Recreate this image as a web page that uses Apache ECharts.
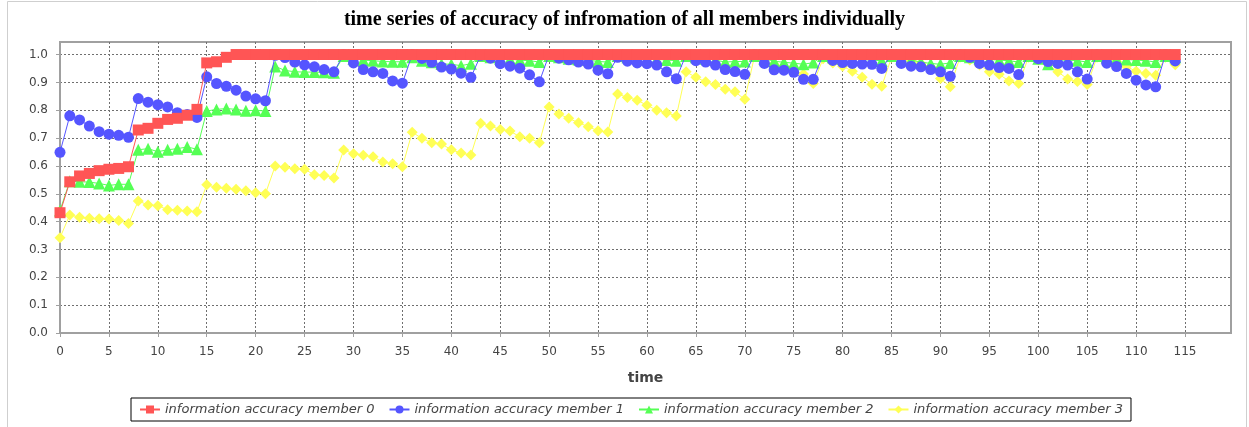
<!DOCTYPE html>
<html>
<head>
<meta charset="utf-8">
<script src="https://cdn.jsdelivr.net/npm/echarts@6/dist/echarts.min.js"></script>
<style>
  html, body { margin: 0; padding: 0; background: #ffffff; }
  #chart { width: 1249px; height: 427px; }
</style>
</head>
<body>
<div id="chart"></div>
<script>
// Accuracy of information held by each member, one value per time step (t = 0 .. 114)
const member0 = [
  0.432,
  0.543, 0.564, 0.573, 0.583, 0.588, 0.591, 0.597,
  0.729, 0.735, 0.753, 0.767, 0.771, 0.782, 0.803,
  0.970, 0.974, 0.990, 1.0, 1.0, 1.0, 1.0,
  1.0, 1.0, 1.0, 1.0, 1.0, 1.0, 1.0,
  1.0, 1.0, 1.0, 1.0, 1.0, 1.0, 1.0,
  1.0, 1.0, 1.0, 1.0, 1.0, 1.0, 1.0,
  1.0, 1.0, 1.0, 1.0, 1.0, 1.0, 1.0,
  1.0, 1.0, 1.0, 1.0, 1.0, 1.0, 1.0,
  1.0, 1.0, 1.0, 1.0, 1.0, 1.0, 1.0,
  1.0, 1.0, 1.0, 1.0, 1.0, 1.0, 1.0,
  1.0, 1.0, 1.0, 1.0, 1.0, 1.0, 1.0,
  1.0, 1.0, 1.0, 1.0, 1.0, 1.0, 1.0,
  1.0, 1.0, 1.0, 1.0, 1.0, 1.0, 1.0,
  1.0, 1.0, 1.0, 1.0, 1.0, 1.0, 1.0,
  1.0, 1.0, 1.0, 1.0, 1.0, 1.0, 1.0,
  1.0, 1.0, 1.0, 1.0, 1.0, 1.0, 1.0,
  1.0, 1.0
];

const member1 = [
  0.649,
  0.780, 0.765, 0.743, 0.723, 0.714, 0.710, 0.703,
  0.842, 0.829, 0.820, 0.812, 0.791, 0.785, 0.774,
  0.920, 0.896, 0.886, 0.872, 0.851, 0.841, 0.834,
  0.997, 0.989, 0.973, 0.963, 0.956, 0.946, 0.938,
  1.0, 0.970, 0.946, 0.938, 0.932, 0.905, 0.897,
  1.0, 0.986, 0.972, 0.955, 0.948, 0.933, 0.918,
  0.997, 0.987, 0.967, 0.958, 0.951, 0.927, 0.902,
  1.0, 0.987, 0.981, 0.973, 0.966, 0.944, 0.931,
  0.990, 0.976, 0.970, 0.967, 0.962, 0.938, 0.913,
  1.0, 0.978, 0.973, 0.962, 0.946, 0.939, 0.929,
  1.0, 0.968, 0.945, 0.944, 0.936, 0.911, 0.911,
  1.0, 0.979, 0.971, 0.968, 0.966, 0.965, 0.950,
  1.0, 0.968, 0.958, 0.956, 0.946, 0.938, 0.922,
  1.0, 0.990, 0.968, 0.962, 0.953, 0.950, 0.928,
  1.0, 0.985, 0.975, 0.968, 0.962, 0.938, 0.912,
  1.0, 0.969, 0.957, 0.932, 0.908, 0.891, 0.884,
  1.0, 0.977
];

const member2 = [
  0.440,
  0.545, 0.543, 0.542, 0.537, 0.530, 0.534, 0.534,
  0.658, 0.662, 0.651, 0.658, 0.662, 0.668, 0.660,
  0.797, 0.803, 0.806, 0.803, 0.798, 0.800, 0.797,
  0.957, 0.943, 0.938, 0.937, 0.937, 0.936, 0.935,
  0.995, 0.985, 0.980, 0.978, 0.975, 0.974, 0.974,
  0.990, 0.978, 0.972, 0.966, 0.965, 0.960, 0.967,
  0.995, 0.990, 0.985, 0.983, 0.980, 0.978, 0.973,
  0.995, 0.990, 0.985, 0.982, 0.980, 0.975, 0.973,
  0.995, 0.990, 0.988, 0.985, 0.983, 0.980, 0.978,
  0.995, 0.990, 0.985, 0.980, 0.973, 0.975, 0.975,
  0.995, 0.985, 0.976, 0.972, 0.969, 0.965, 0.971,
  0.995, 0.990, 0.985, 0.985, 0.982, 0.980, 0.978,
  0.995, 0.985, 0.980, 0.973, 0.968, 0.965, 0.970,
  0.995, 0.990, 0.985, 0.982, 0.980, 0.978, 0.973,
  0.995, 0.985, 0.965, 0.980, 0.980, 0.978, 0.973,
  0.995, 0.990, 0.985, 0.982, 0.980, 0.978, 0.973,
  0.995, 0.990
];

const member3 = [
  0.342,
  0.424, 0.416, 0.412, 0.410, 0.409, 0.404, 0.393,
  0.474, 0.460, 0.457, 0.443, 0.441, 0.438, 0.435,
  0.532, 0.523, 0.520, 0.516, 0.511, 0.504, 0.500,
  0.600, 0.595, 0.590, 0.588, 0.568, 0.566, 0.557,
  0.657, 0.644, 0.638, 0.633, 0.614, 0.608, 0.597,
  0.721, 0.699, 0.683, 0.679, 0.658, 0.646, 0.639,
  0.753, 0.743, 0.731, 0.725, 0.705, 0.699, 0.683,
  0.812, 0.786, 0.771, 0.755, 0.741, 0.726, 0.722,
  0.858, 0.846, 0.836, 0.818, 0.800, 0.791, 0.779,
  0.938, 0.918, 0.902, 0.892, 0.875, 0.866, 0.839,
  0.995, 0.980, 0.965, 0.955, 0.945, 0.930, 0.896,
  0.985, 0.970, 0.958, 0.940, 0.918, 0.893, 0.886,
  0.990, 0.985, 0.978, 0.968, 0.955, 0.914, 0.884,
  0.990, 0.980, 0.962, 0.938, 0.929, 0.905, 0.896,
  0.990, 0.980, 0.965, 0.938, 0.912, 0.903, 0.892,
  0.990, 0.985, 0.975, 0.957, 0.940, 0.932, 0.926,
  0.990, 0.963
];

const seriesNames = [
  'information accuracy member 0',
  'information accuracy member 1',
  'information accuracy member 2',
  'information accuracy member 3'
];

const xTickValues = [0, 5, 10, 15, 20, 25, 30, 35, 40, 45, 50, 55, 60, 65, 70, 75, 80, 85, 90, 95, 100, 105, 110, 115];
const yTickValues = [0, 0.1, 0.2, 0.3, 0.4, 0.5, 0.6, 0.7, 0.8, 0.9, 1.0];

// Drawing styles for each member
const seriesColors = ['#FF5555', '#5555FF', '#55FF55', '#FFFF55'];
const seriesSymbols = ['rect', 'circle', 'triangle', 'diamond'];
const seriesSymbolSizes = [11, 11, 12, 11];
// Member 0 is painted on top, member 3 at the bottom
const seriesZ = [8, 7, 6, 5];

const allValues = [member0, member1, member2, member3];

const sansFont = '"DejaVu Sans", "Liberation Sans", sans-serif';
const labelColor = '#444444';

const chart = echarts.init(document.getElementById('chart'), null, { renderer: 'canvas' });

const series = allValues.map((values, k) => ({
  name: seriesNames[k],
  type: 'line',
  data: values.map((v, t) => [t, v]),
  symbol: seriesSymbols[k],
  symbolSize: seriesSymbolSizes[k],
  showAllSymbol: true,
  z: seriesZ[k],
  lineStyle: { color: seriesColors[k], width: 1 },
  itemStyle: { color: seriesColors[k], borderWidth: 0 },
  emphasis: { disabled: true },
  animation: false
}));

chart.setOption({
  animation: false,
  backgroundColor: '#ffffff',
  title: {
    text: 'time series of accuracy of infromation of all members individually',
    left: 'center',
    top: 5,
    textStyle: {
      fontFamily: '"Liberation Serif", "DejaVu Serif", serif',
      fontWeight: 'bold',
      fontSize: 20,
      color: '#000000'
    }
  },
  graphic: [{
    type: 'rect',
    shape: { x: 7.5, y: 1.5, width: 1239, height: 440 },
    style: { fill: 'none', stroke: '#cfcfcf', lineWidth: 1 },
    silent: true,
    z: 0
  }],
  legend: {
    left: 131,
    top: 398,
    orient: 'horizontal',
    data: seriesNames,
    itemWidth: 20,
    itemHeight: 10,
    itemGap: 14,
    padding: [5, 8, 5, 8],
    borderColor: '#000000',
    borderWidth: 1,
    textStyle: {
      fontFamily: sansFont,
      fontStyle: 'italic',
      fontSize: 13,
      color: labelColor
    }
  },
  grid: {
    left: 60,
    right: 18,
    top: 42,
    bottom: 94,
    show: true,
    borderColor: '#a0a0a0',
    borderWidth: 2,
    backgroundColor: '#ffffff'
  },
  xAxis: {
    type: 'value',
    min: 0,
    max: 119.7,
    interval: 5,
    offset: 8,
    name: 'time',
    nameLocation: 'middle',
    nameGap: 30,
    nameTextStyle: {
      fontFamily: sansFont,
      fontWeight: 'bold',
      fontSize: 14,
      color: labelColor
    },
    axisLine: { show: true, lineStyle: { color: '#a0a0a0', width: 2 } },
    axisTick: { show: true, length: 4, customValues: xTickValues, lineStyle: { color: '#a0a0a0', width: 1 } },
    axisLabel: {
      customValues: xTickValues,
      margin: 5,
      fontFamily: sansFont,
      fontSize: 12,
      color: labelColor
    },
    splitLine: { show: true, lineStyle: { color: '#6f6f6f', width: 1, type: [2, 2] } }
  },
  yAxis: {
    type: 'value',
    min: 0,
    max: 1.045,
    interval: 0.1,
    offset: 7,
    axisLine: { show: true, lineStyle: { color: '#a0a0a0', width: 2 } },
    axisTick: { show: true, length: 4, customValues: yTickValues, lineStyle: { color: '#a0a0a0', width: 1 } },
    axisLabel: {
      customValues: yTickValues,
      margin: 5,
      fontFamily: sansFont,
      fontSize: 12,
      color: labelColor,
      formatter: v => v.toFixed(1)
    },
    splitLine: { show: true, lineStyle: { color: '#6f6f6f', width: 1, type: [2, 2] } }
  },
  series: series
});
</script>
</body>
</html>
